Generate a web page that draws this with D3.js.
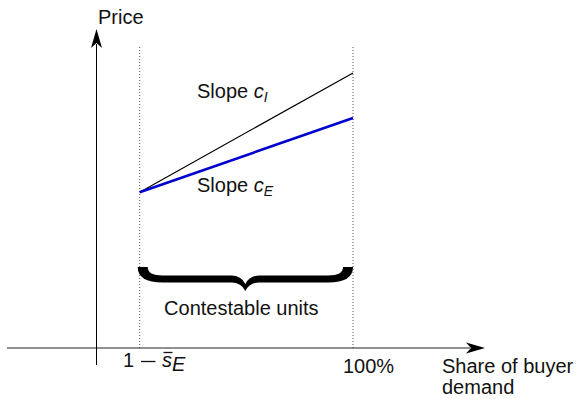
<!DOCTYPE html>
<html>
<head>
<meta charset="utf-8">
<script src="https://d3js.org/d3.v7.min.js"></script>
<style>
  body { margin: 0; background: #fff; }
  text { font-family: "Liberation Sans", Arial, sans-serif; font-size: 20px; fill: #111; }
</style>
</head>
<body>
<div id="chart"></div>
<script>
// chart values
var shares = [17, 100];               // 1 - s_E  and 100%
var incumbentPrice = [4.9, 8.65];     // slope c_I
var entrantPrice = [4.9, 7.23];       // slope c_E
var xTicks = ["1", "100%"];

var width = 581, height = 399;

var svg = d3.select("#chart").append("svg")
  .attr("width", width)
  .attr("height", height);

// scales (origin of the diagram at x=96, y=348)
var x = d3.scaleLinear().domain([0, 100]).range([96, 353]);
var y = d3.scaleLinear().domain([0, 10]).range([348, 30]);

// dotted guides
shares.forEach(function(s) {
  svg.append("line")
    .attr("x1", x(s)).attr("x2", x(s))
    .attr("y1", 47).attr("y2", y(0))
    .attr("stroke", "#555")
    .attr("stroke-width", 1)
    .attr("stroke-dasharray", "1,2");
});

// axes
svg.append("line")
  .attr("x1", 7).attr("x2", 470)
  .attr("y1", y(0)).attr("y2", y(0))
  .attr("stroke", "#222").attr("stroke-width", 1);
svg.append("line")
  .attr("x1", x(0) + 0.5).attr("x2", x(0) + 0.5)
  .attr("y1", 365).attr("y2", 44)
  .attr("stroke", "#000").attr("stroke-width", 1);

// arrow heads
function arrow(tx, ty, dir) {
  var p;
  if (dir == "up") {
    p = [[tx, ty], [tx + 5.5, ty + 19], [tx, ty + 14], [tx - 5.5, ty + 19]];
  } else {
    p = [[tx, ty], [tx - 19, ty + 5.5], [tx - 14, ty], [tx - 19, ty - 5.5]];
  }
  svg.append("path")
    .attr("d", "M" + p.map(function(q) { return q.join(","); }).join("L") + "Z")
    .attr("fill", "#000");
}
arrow(x(0) + 0.5, 29, "up");
arrow(485, y(0), "right");

// price lines
var line = d3.line()
  .x(function(d) { return x(d[0]); })
  .y(function(d) { return y(d[1]); });

svg.append("path")
  .datum(d3.zip(shares, incumbentPrice))
  .attr("d", line)
  .attr("fill", "none")
  .attr("stroke", "#000")
  .attr("stroke-width", 1.2);

svg.append("path")
  .datum(d3.zip(shares, entrantPrice))
  .attr("d", line)
  .attr("fill", "none")
  .attr("stroke", "#0000cc")
  .attr("stroke-width", 2.6);

// curly brace
var x0 = x(shares[0]) - 2, x1 = x(shares[1]), xm = (x0 + x1) / 2;
var y0 = 267, yb = 279, yt = 291;
var brace = "M" + x0 + "," + y0 +
  "L" + (x0 + 10) + "," + y0 +
  "Q" + (x0 + 10) + "," + (yb - 3.5) + " " + (x0 + 25) + "," + (yb - 3.5) +
  "L" + (xm - 14) + "," + (yb - 3.5) +
  "Q" + (xm - 4) + "," + (yb - 3.5) + " " + xm + "," + (yt - 7) +
  "Q" + (xm + 4) + "," + (yb - 3.5) + " " + (xm + 14) + "," + (yb - 3.5) +
  "L" + (x1 - 25) + "," + (yb - 3.5) +
  "Q" + (x1 - 10) + "," + (yb - 3.5) + " " + (x1 - 10) + "," + y0 +
  "L" + x1 + "," + y0 +
  "Q" + x1 + "," + (yb + 3.5) + " " + (x1 - 25) + "," + (yb + 3.5) +
  "L" + (xm + 14) + "," + (yb + 3.5) +
  "Q" + (xm + 4) + "," + (yb + 3.5) + " " + xm + "," + yt +
  "Q" + (xm - 4) + "," + (yb + 3.5) + " " + (xm - 14) + "," + (yb + 3.5) +
  "L" + (x0 + 25) + "," + (yb + 3.5) +
  "Q" + x0 + "," + (yb + 3.5) + " " + x0 + "," + y0 + "Z";
svg.append("path").attr("d", brace).attr("fill", "#000");

svg.append("text")
  .attr("x", xm - 4).attr("y", 315)
  .attr("text-anchor", "middle")
  .text("Contestable units");

// labels
svg.append("text").attr("x", 98).attr("y", 24).text("Price");

function slopeLabel(tx, ty, sub) {
  var t = svg.append("text").attr("x", tx).attr("y", ty);
  t.append("tspan").text("Slope ");
  t.append("tspan").attr("font-style", "italic").text("c");
  t.append("tspan").attr("font-style", "italic")
    .attr("font-size", "14px").attr("dy", 4).text(sub);
}
slopeLabel(197, 98, "I");
slopeLabel(197, 192, "E");

// tick label 1 - s_E
svg.append("text").attr("x", 123).attr("y", 367).text(xTicks[0]);
svg.append("line")
  .attr("x1", 141).attr("x2", 155.5)
  .attr("y1", 361.5).attr("y2", 361.5)
  .attr("stroke", "#111").attr("stroke-width", 1.3);
var sx = 162;
var s = svg.append("text").attr("x", sx).attr("y", 367)
  .attr("font-style", "italic").text("s");
var ws = s.node().getComputedTextLength();
svg.append("line")
  .attr("x1", sx + 1.5).attr("x2", sx + ws + 0.5)
  .attr("y1", 352.5).attr("y2", 352.5)
  .attr("stroke", "#111").attr("stroke-width", 1.3);
svg.append("text").attr("x", sx + ws).attr("y", 371)
  .attr("font-style", "italic").attr("font-size", "15px").text("E");

svg.append("text").attr("x", x(shares[1]) - 10).attr("y", 373).text(xTicks[1]);

var xl = svg.append("text").attr("x", 442).attr("y", 373);
xl.append("tspan").text("Share of buyer");
xl.append("tspan").attr("x", 442).attr("dy", 21).text("demand");
</script>
</body>
</html>
